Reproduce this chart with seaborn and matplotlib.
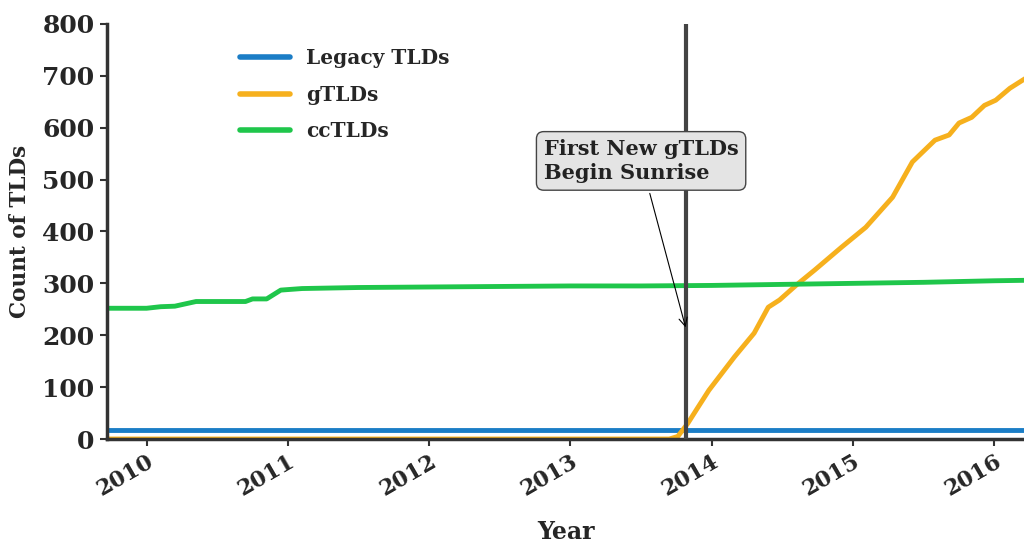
import pandas as pd
import matplotlib
matplotlib.use('Agg')
import matplotlib.pyplot as plt
import seaborn as sns

# data (x in decimal years)
legacy_x = [2009.72, 2016.25]
legacy_y = [17, 17]

cctld_x = [2009.72, 2010.0, 2010.1, 2010.2, 2010.35, 2010.7, 2010.75, 2010.85,
           2010.95, 2011.1, 2011.5, 2012.0, 2012.5, 2013.0, 2013.5, 2014.0,
           2014.5, 2015.0, 2015.5, 2016.0, 2016.25]
cctld_y = [252, 252, 255, 256, 265, 265, 270, 270, 287, 290, 292, 293, 294, 295,
           295, 296, 298, 300, 302, 305, 306]

gtld_x = [2009.72, 2013.70, 2013.76, 2013.83, 2013.90, 2013.98, 2014.16, 2014.30,
          2014.40, 2014.48, 2014.60, 2014.73, 2014.92, 2015.09, 2015.28, 2015.42,
          2015.58, 2015.68, 2015.75, 2015.84, 2015.93, 2016.01, 2016.11, 2016.22]
gtld_y = [0, 0, 5, 30, 60, 94, 158, 204, 254, 268, 297, 326, 370, 408, 466, 534,
          576, 586, 609, 620, 643, 653, 676, 695]

years = [2010, 2011, 2012, 2013, 2014, 2015, 2016]
sunrise = 2013.82

df = pd.concat([
    pd.DataFrame({'Year': legacy_x, 'Count': legacy_y, 'Type': 'Legacy TLDs'}),
    pd.DataFrame({'Year': gtld_x, 'Count': gtld_y, 'Type': 'gTLDs'}),
    pd.DataFrame({'Year': cctld_x, 'Count': cctld_y, 'Type': 'ccTLDs'}),
])

sns.set_style('white')
plt.rcParams['font.family'] = ['DejaVu Serif']
plt.rcParams['font.weight'] = 'bold'

fig = plt.figure(figsize=(10.24, 5.44), dpi=100)
ax = fig.add_axes([0.1045, 0.193, 0.8955, 0.763])

palette = {'Legacy TLDs': '#1b7dc6', 'gTLDs': '#f6b01d', 'ccTLDs': '#1fc64b'}
sns.lineplot(data=df, x='Year', y='Count', hue='Type', palette=palette,
             linewidth=3.5, ax=ax, zorder=2)

ax.axvline(sunrise, color='#444444', linewidth=3, zorder=3)

ax.annotate('First New gTLDs\nBegin Sunrise', xy=(sunrise, 210),
            xytext=(2013.5, 536), ha='center', va='center',
            multialignment='left', fontsize=15, fontweight='bold', color='#222222',
            linespacing=1.25,
            bbox=dict(boxstyle='round,pad=0.35', fc='#e4e4e4', ec='#444444', lw=1),
            arrowprops=dict(arrowstyle='->', color='black', lw=0.8), zorder=5)

ax.set_xlim(2009.72, 2016.21)
ax.set_ylim(0, 800)
ax.set_yticks(range(0, 801, 100))
ax.set_xticks(years)
ax.set_xticklabels([str(y) for y in years], rotation=30, ha='right', va='top',
                   rotation_mode='anchor', fontsize=16, fontweight='bold')
ax.tick_params(axis='y', labelsize=18, length=5, width=1.5, color='#333333', direction='out', left=True, pad=4)
ax.tick_params(axis='x', length=5, width=1.5, color='#333333', direction='out', bottom=True, pad=3)
for lab in ax.get_yticklabels():
    lab.set_fontweight('bold')

ax.set_xlabel('Year', fontsize=17, fontweight='bold', labelpad=14)
ax.set_ylabel('Count of TLDs', fontsize=15.5, fontweight='bold', labelpad=8)

for s in ['top', 'right']:
    ax.spines[s].set_visible(False)
for s in ['left', 'bottom']:
    ax.spines[s].set_color('#333333')
    ax.spines[s].set_linewidth(2.5)

leg = ax.legend(loc='upper left', bbox_to_anchor=(0.125, 0.985), frameon=False,
                fontsize=14.5, handlelength=2.5, labelspacing=0.82)
for line in leg.get_lines():
    line.set_linewidth(4)
for t in leg.get_texts():
    t.set_fontweight('bold')

fig.savefig('out.png', dpi=100)
